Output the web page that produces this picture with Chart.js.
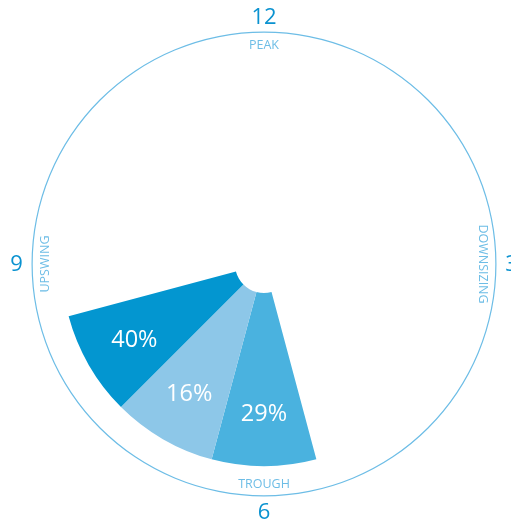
<!DOCTYPE html>
<html>
<head>
<meta charset="utf-8">
<script src="https://cdn.jsdelivr.net/npm/chart.js@4.4.1/dist/chart.umd.min.js"></script>
<style>
  html, body { margin: 0; padding: 0; background: #fff; }
  #wrap { width: 511px; height: 521px; }
</style>
</head>
<body>
<div id="wrap"><canvas id="clock"></canvas></div>
<script>
// clock face: hour marks and the phase written under each one
const hourMarks = ['12', '3', '6', '9'];
const phaseNames = ['PEAK', 'DOWNSIZING', 'TROUGH', 'UPSWING'];

// twelve equal hour slots round the face
const hourSlots = [1, 1, 1, 1, 1, 1, 1, 1, 1, 1, 1, 1];

// wedges: the hour slot each one sits on and the share printed in it
const wedgeHours = [6, 7, 8];
const wedgeShares = [29, 16, 40];
const wedgeColors = ['#4ab2df', '#8dc7e8', '#0396d0'];

const slotColors = hourSlots.map((v, h) => {
  const i = wedgeHours.indexOf(h);
  return i >= 0 ? wedgeColors[i] : 'rgba(0,0,0,0)';
});

const FONT = '"Open Sans", "Noto Sans", sans-serif';

// writes the hour marks, phase names and the shares
const clockText = {
  id: 'clockText',
  afterDatasetsDraw(chart) {
    const ctx = chart.ctx;
    const rim = chart.getDatasetMeta(0).data[0];
    const cx = rim.x, cy = rim.y, r = rim.outerRadius;

    ctx.save();
    ctx.textAlign = 'center';
    ctx.textBaseline = 'middle';

    ctx.fillStyle = '#0a92d0';
    ctx.font = '500 22px ' + FONT;
    hourMarks.forEach((mark, i) => {
      const a = i * Math.PI / 2;
      ctx.fillText(mark, cx + Math.sin(a) * (r + 15), cy - Math.cos(a) * (r + 15) + 1);
    });

    ctx.fillStyle = '#6dbde6';
    ctx.font = '12.5px ' + FONT;
    const turns = [0, Math.PI / 2, 0, -Math.PI / 2];
    phaseNames.forEach((name, i) => {
      const a = i * Math.PI / 2;
      ctx.save();
      ctx.translate(cx + Math.sin(a) * (r - 13), cy - Math.cos(a) * (r - 13));
      ctx.rotate(turns[i]);
      ctx.fillText(name, 0, 1);
      ctx.restore();
    });

    // shares, placed on the middle line of each wedge
    const meta = chart.getDatasetMeta(2);
    ctx.fillStyle = '#ffffff';
    ctx.font = '500 23.5px ' + FONT;
    wedgeHours.forEach((h, i) => {
      const arc = meta.data[h];
      const p = arc.getProps(['x', 'y', 'startAngle', 'endAngle', 'outerRadius']);
      const mid = (p.startAngle + p.endAngle) / 2;
      const rr = p.outerRadius * 0.74;
      ctx.fillText(wedgeShares[i] + '%', p.x + Math.cos(mid) * rr, p.y + Math.sin(mid) * rr + 1);
    });
    ctx.restore();
  }
};

new Chart(document.getElementById('clock'), {
  type: 'doughnut',
  data: {
    labels: hourSlots.map((v, h) => String(h)),
    datasets: [
      {
        // thin outer rim of the clock
        data: [1],
        backgroundColor: '#6dbde6',
        borderWidth: 0,
        weight: 1.2
      },
      {
        // empty band between rim and wedges
        data: [1],
        backgroundColor: 'rgba(0,0,0,0)',
        borderWidth: 0,
        weight: 29
      },
      {
        data: hourSlots,
        backgroundColor: slotColors,
        borderWidth: 0,
        weight: 173,
        rotation: -15
      }
    ]
  },
  options: {
    responsive: true,
    maintainAspectRatio: false,
    animation: false,
    radius: 232.5,
    cutout: '12.5%',
    layout: { padding: { left: 17, right: 0, top: 7, bottom: 0 } },
    plugins: {
      legend: { display: false },
      tooltip: { enabled: false }
    },
    events: []
  },
  plugins: [clockText]
});
</script>
</body>
</html>
